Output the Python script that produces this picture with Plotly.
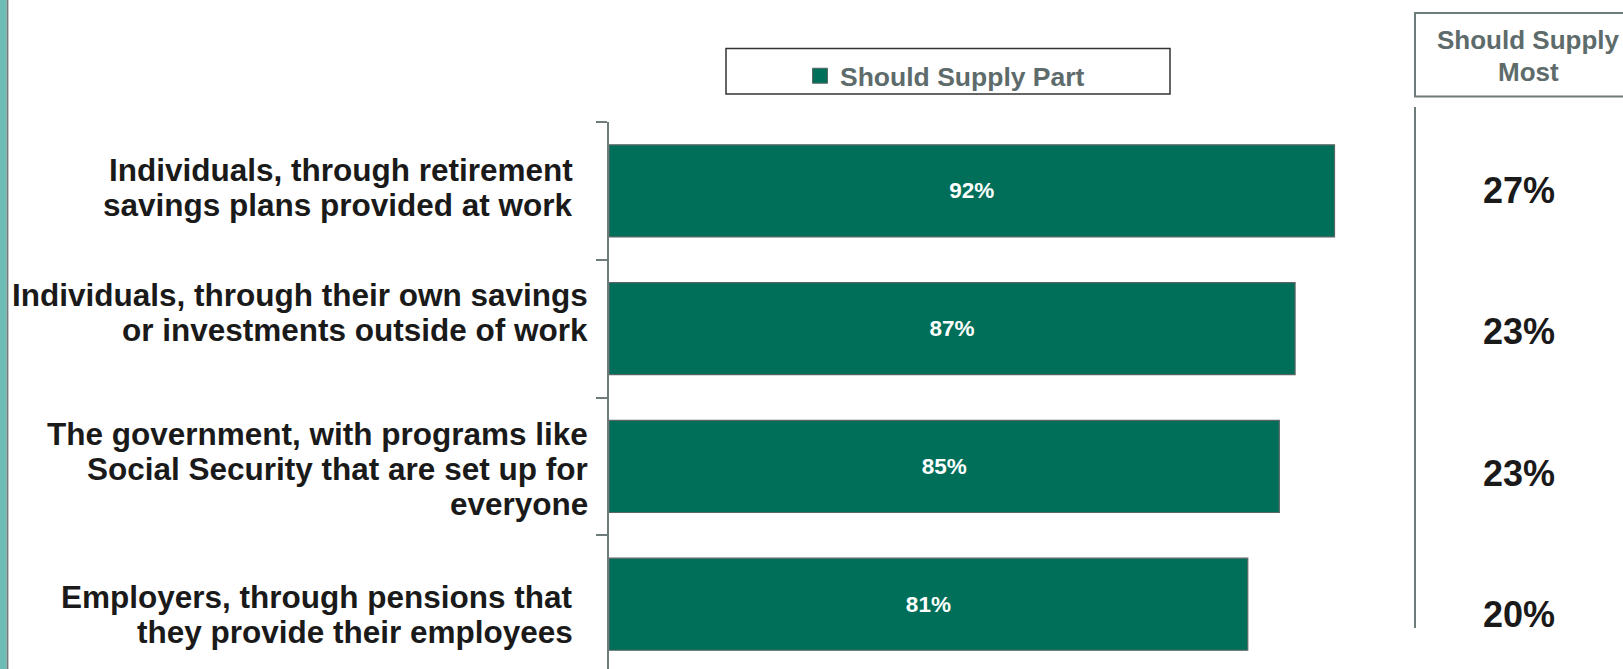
import plotly.graph_objects as go

# Survey results: who should supply retirement income
categories = [
    "Individuals, through retirement<br>savings plans provided at work",
    "Individuals, through their own savings<br>or investments outside of work",
    "The government, with programs like<br>Social Security that are set up for<br>everyone",
    "Employers, through pensions that<br>they provide their employees",
]
supply_part = [92, 87, 85, 81]
supply_most = [27, 23, 23, 20]
series_name = "Should Supply Part"
most_header = "Should Supply<br>Most"

W, H = 1623, 669
ML, MR, MT, MB = 609, 208, 122, 0
PLOT_L, PLOT_R, PLOT_T, PLOT_B = ML, W - MR, MT, H - MB

GREEN = "#006F5A"
GRAY = "#5E6B6B"
LINE_GRAY = "#6E7B7B"
BAR_EDGE = "#5A6666"
FONT = "Liberation Sans, Arial, sans-serif"


def fx(px):
    return (px - PLOT_L) / (PLOT_R - PLOT_L)


def fy(py):
    return (PLOT_B - py) / (PLOT_B - PLOT_T)


fig = go.Figure()
fig.add_trace(go.Bar(
    y=list(range(len(categories))),
    x=supply_part,
    orientation="h",
    name=series_name,
    legendgroup="part",
    showlegend=False,
    marker=dict(color=GREEN, line=dict(color=BAR_EDGE, width=1.2)),
    texttemplate="<b>%{x}%</b>",
    textposition="inside",
    insidetextanchor="middle",
    textfont=dict(family=FONT, size=22.5, color="white"),
    hoverinfo="skip",
))
# legend entry for the bar series, drawn with a square swatch
fig.add_trace(go.Scatter(
    x=[None], y=[None], mode="markers", name=series_name,
    legendgroup="part", showlegend=True,
    marker=dict(symbol="square", size=15, color=GREEN,
                line=dict(color=BAR_EDGE, width=1)),
    hoverinfo="skip",
))

annotations = []

# Category labels, one annotation per line, right-aligned left of the axis
label_right = [575, 590, 590, 575]
label_offset = [-3.7, -16, 2.8, 10.3]
line_step = 35
for i, cat in enumerate(categories):
    lines = cat.split("<br>")
    n = len(lines)
    for j, line in enumerate(lines):
        dy = label_offset[i] + (j - (n - 1) / 2) * line_step
        annotations.append(dict(
            x=fx(label_right[i]), xref="paper", xanchor="right",
            y=i, yref="y", yanchor="middle", yshift=-dy,
            text=f"<b>{line}</b>", showarrow=False,
            font=dict(family=FONT, size=31.5, color="#1A1A1A"),
        ))

# "Should Supply Most" column
most_offset = [0, 2.5, 7, 10.3]
for i, v in enumerate(supply_most):
    annotations.append(dict(
        x=fx(1519), xref="paper", xanchor="center",
        y=i, yref="y", yanchor="middle", yshift=-most_offset[i],
        text=f"<b>{v}%</b>", showarrow=False,
        font=dict(family=FONT, size=36, color="#1A1A1A"),
    ))

header_lines = most_header.split("<br>")
for j, line in enumerate(header_lines):
    annotations.append(dict(
        x=fx(1528), xref="paper", xanchor="center",
        y=fy(40 + 32 * j), yref="paper", yanchor="middle",
        text=f"<b>{line}</b>", showarrow=False,
        font=dict(family=FONT, size=26, color=GRAY),
    ))

shapes = [
    # left accent stripe
    dict(type="rect", xref="paper", yref="paper",
         x0=fx(0), x1=fx(6.5), y0=fy(H), y1=fy(0),
         fillcolor="#6DBDB5", line=dict(width=0), layer="above"),
    dict(type="line", xref="paper", yref="paper",
         x0=fx(7.5), x1=fx(7.5), y0=fy(H), y1=fy(0),
         line=dict(color=LINE_GRAY, width=1.8)),
    # legend frame
    dict(type="rect", xref="paper", yref="paper",
         x0=fx(726), x1=fx(1170), y0=fy(94), y1=fy(48.5),
         line=dict(color="#333333", width=1.5), fillcolor="rgba(0,0,0,0)"),
    # header frame for the right-hand column
    dict(type="rect", xref="paper", yref="paper",
         x0=fx(1415), x1=fx(1640), y0=fy(96.5), y1=fy(13),
         line=dict(color=LINE_GRAY, width=2), fillcolor="rgba(0,0,0,0)"),
    # column divider
    dict(type="line", xref="paper", yref="paper",
         x0=fx(1415), x1=fx(1415), y0=fy(628), y1=fy(107),
         line=dict(color=LINE_GRAY, width=2)),
]

px_per_unit = 7.886
fig.update_layout(
    width=W, height=H,
    margin=dict(l=ML, r=MR, t=MT, b=MB, pad=0),
    paper_bgcolor="white", plot_bgcolor="white",
    bargap=0.332,
    font=dict(family=FONT),
    xaxis=dict(range=[0, (PLOT_R - PLOT_L) / px_per_unit], visible=False,
               showgrid=False, zeroline=False),
    yaxis=dict(range=[3.47, -0.5], type="linear",
               tickmode="array", tickvals=[-0.5, 0.5, 1.5, 2.5],
               ticks="outside", ticklen=11, tickcolor=LINE_GRAY, tickwidth=1.5,
               showticklabels=False, showline=True, linecolor=LINE_GRAY,
               linewidth=1.5, showgrid=False, zeroline=False),
    showlegend=True,
    legend=dict(orientation="h", x=fx(800), xanchor="left",
                y=fy(52), yanchor="top", bgcolor="rgba(0,0,0,0)",
                font=dict(family=FONT, size=26.5, color=GRAY, weight="bold")),
    annotations=annotations,
    shapes=shapes,
)

fig.write_html("out.html")
